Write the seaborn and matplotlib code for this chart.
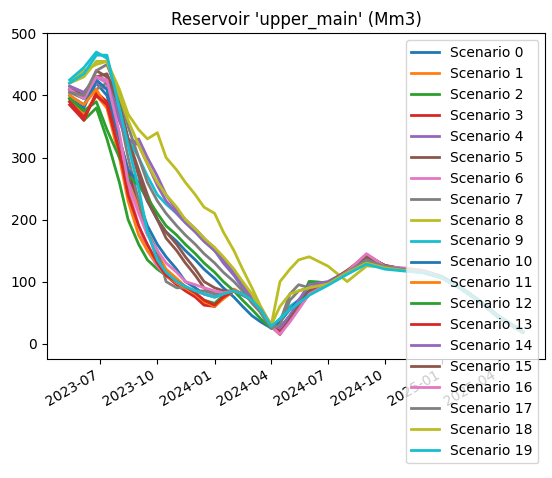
import matplotlib
matplotlib.use("Agg")
import matplotlib.pyplot as plt
import seaborn as sns
import pandas as pd

dates = ["2023-05-13","2023-06-05","2023-06-25","2023-07-12","2023-08-01","2023-08-15","2023-09-01","2023-09-15",
         "2023-10-01","2023-10-15","2023-11-01","2023-11-15","2023-12-01","2023-12-15","2024-01-01","2024-01-15",
         "2024-02-01","2024-02-15","2024-03-01","2024-03-15","2024-04-01","2024-04-15","2024-05-01","2024-05-15",
         "2024-06-01","2024-07-01","2024-08-01","2024-09-01","2024-10-01","2024-11-01","2024-12-01","2025-01-01",
         "2025-02-01","2025-03-01","2025-04-01","2025-05-10"]

s0  = [400,385,420,400,330,270,230,190,160,140,120,100,90,80,75,80,85,78,70,55,30,25,45,60,80,95,115,135,122,120,118,108,90,70,45,20]
s1  = [395,370,400,380,320,260,220,180,145,120,105,92,80,65,60,75,88,80,70,55,28,22,45,62,82,97,118,142,125,120,115,105,88,68,42,18]
s2  = [390,360,380,330,260,200,160,135,120,110,100,90,80,70,65,78,85,80,70,55,28,20,40,60,100,98,115,138,124,118,115,106,88,68,42,18]
s3  = [385,360,405,390,330,280,230,180,140,110,95,85,75,62,60,75,85,80,70,55,28,20,40,58,80,96,116,143,125,120,116,106,88,68,43,19]
s4  = [410,400,420,410,360,320,330,300,270,240,215,200,185,170,150,130,110,90,70,50,25,25,45,65,85,98,115,135,125,120,116,106,88,68,43,19]
s5  = [410,395,440,430,380,330,280,240,200,170,150,130,110,90,80,80,85,80,70,55,28,15,40,65,85,97,117,140,126,120,116,106,88,68,43,19]
s6  = [415,405,430,420,330,250,190,150,125,110,100,92,85,80,75,80,85,80,70,55,28,18,40,58,80,96,116,140,124,120,118,106,88,68,43,19]
s7  = [405,395,410,420,370,300,230,180,150,100,90,90,85,85,80,82,85,80,70,55,28,35,80,95,90,98,115,135,124,120,116,106,88,68,43,19]
s8  = [420,440,450,455,410,370,345,330,340,300,280,260,240,220,210,180,150,120,90,60,30,100,120,135,140,125,100,125,124,120,116,106,88,68,43,19]
s9  = [425,445,470,460,380,330,300,270,240,225,210,195,180,165,150,135,115,95,75,50,25,40,60,70,80,95,112,130,122,118,115,106,88,68,43,19]
s10 = [395,380,425,410,330,280,260,230,200,180,165,150,135,120,105,90,75,60,45,35,25,35,55,70,85,96,114,133,124,118,115,106,88,68,43,19]
s11 = [400,385,410,380,300,230,175,150,130,110,98,90,80,68,60,72,85,80,70,55,28,22,45,62,80,96,117,142,125,120,116,106,88,68,43,19]
s12 = [395,375,390,345,300,270,255,235,210,190,175,160,145,130,115,100,85,70,55,40,25,25,45,62,100,98,116,136,124,118,115,106,88,68,43,19]
s13 = [390,365,400,385,310,240,190,160,130,110,100,92,82,70,62,75,85,80,70,55,28,20,40,58,80,96,116,144,125,120,116,106,88,68,43,19]
s14 = [415,405,430,425,360,330,320,290,255,230,210,195,180,165,150,135,115,95,75,55,30,25,45,70,95,100,117,136,125,120,116,106,88,68,43,19]
s15 = [410,400,430,435,390,330,270,230,200,180,160,140,120,100,90,85,85,80,70,55,28,15,40,60,85,97,118,140,126,120,116,106,88,68,43,19]
s16 = [410,395,430,425,340,260,210,175,150,130,115,100,95,90,85,82,85,80,70,55,28,15,35,55,80,96,116,145,124,122,118,106,88,68,43,19]
s17 = [405,400,440,450,400,350,300,260,230,210,190,175,160,145,130,115,100,85,65,50,25,30,70,85,90,97,115,135,124,120,116,106,88,68,43,19]
s18 = [420,430,455,455,400,360,320,290,260,240,220,200,185,170,155,140,120,100,80,55,30,60,80,85,90,96,114,130,122,118,115,106,88,68,43,19]
s19 = [420,435,465,465,380,320,250,180,135,115,100,92,85,80,75,80,85,80,70,55,28,40,55,65,78,94,112,128,120,117,114,106,88,68,43,19]

series = [s0,s1,s2,s3,s4,s5,s6,s7,s8,s9,s10,s11,s12,s13,s14,s15,s16,s17,s18,s19]
x = pd.to_datetime(dates)

fig, ax = plt.subplots(figsize=(5.52, 4.78), dpi=100)
pal = sns.color_palette("tab10", 10)
for i, s in enumerate(series):
    sns.lineplot(x=x, y=s, ax=ax, color=pal[i % 10], lw=2, label=f"Scenario {i}")
ax.set_title("Reservoir 'upper_main' (Mm3)")
ax.set_xlabel(""); ax.set_ylabel("")
ax.set_ylim(-24, 500)
ax.set_yticks([0,100,200,300,400,500])
ax.legend(loc="upper right")
fig.autofmt_xdate()
fig.subplots_adjust(left=0.085, right=0.988, top=0.93, bottom=0.25)
fig.savefig("out.png")
